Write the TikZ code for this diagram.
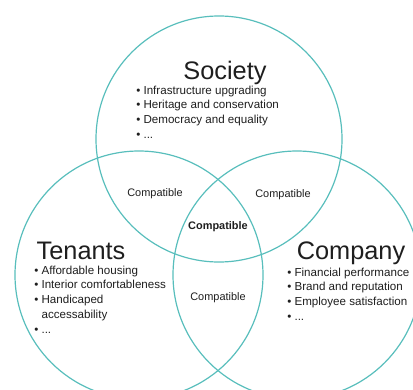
\documentclass[tikz,border=0pt]{standalone}
\usepackage{fontspec}
\setmainfont{Liberation Sans}
\usetikzlibrary{positioning}
\definecolor{teal2}{RGB}{88, 190, 188}
\definecolor{ink}{RGB}{30, 30, 30}
\tikzset{
ring/.style={draw=teal2, line width=0.9pt},
title/.style={font=\fontsize{19}{22}\selectfont, text=ink, inner sep=0pt, anchor=base},
items/.style={font=\fontsize{8.7}{11.1}\selectfont, text=ink, align=left, inner sep=0pt, anchor=north west},
overlap/.style={font=\fontsize{8.2}{10}\selectfont, text=ink, inner sep=0pt},
}
\newcommand{\itm}{\textbullet\ }
\newcommand{\hang}{\hphantom{\textbullet\ }}

\begin{document}
\begin{tikzpicture}[x=0.75pt, y=-0.75pt]
\useasboundingbox (0,0) rectangle (413,389);
\clip (0,0) rectangle (413,389);

%Place the circles
\coordinate (S) at (219,139);
\coordinate (T) at (139,275);
\coordinate (C) at (297,275);
\draw[ring] (S) circle[radius=123];
\draw[ring] (T) circle[radius=124];
\draw[ring] (C) circle[radius=124];

%Titles
\node[title] (society) at (225,79) {Society};
\node[title] (tenants) at (81,259) {Tenants};
\node[title] (company) at (351,259) {Company};

%Lists
\node[items] (soclist) at (136,85.5) {\itm Infrastructure upgrading\\ \itm Heritage and conservation\\ \itm Democracy and equality\\ \itm ...};
\node[items] (tenlist) at (34,265.5) {\itm Affordable housing\\ \itm Interior comfortableness\\ \itm Handicaped\\ \hang accessability\\ \itm ...};
\node[items] (comlist) at (287,267.5) {\itm Financial performance\\ \itm Brand and reputation\\ \itm Employee satisfaction\\ \itm ...};

%Overlaps
\node[overlap] (st) at (155,194) {Compatible};
\node[overlap] (sc) at (283,195) {Compatible};
\node[overlap, font=\fontsize{8.2}{10}\selectfont\bfseries] (stc) at (218,227) {Compatible};
\node[overlap] (tc) at (218,298) {Compatible};

\end{tikzpicture}
\end{document}
